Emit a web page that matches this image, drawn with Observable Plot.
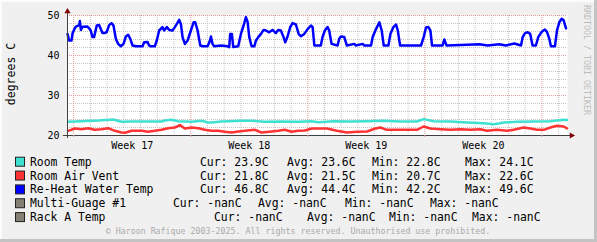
<!DOCTYPE html>
<html><head><meta charset="utf-8">
<script src="https://cdn.jsdelivr.net/npm/d3@7"></script>
<script src="https://cdn.jsdelivr.net/npm/@observablehq/plot@0.6"></script>
<style>
body{margin:0;background:#fff;}
#chart{position:relative;width:597px;height:242px;background:#f0f0f0;box-shadow:inset -3px -3px 0 #c4c4c4, inset 2px 2px 0 #fcfcfc;overflow:hidden;}
#chart svg{position:absolute;left:0;top:0;}
</style></head><body><div id="chart"></div>
<script>
// ---- data (x in days since left edge of the graph) ----
const blueDays = [0.00,0.10,0.24,0.30,0.40,0.50,0.70,0.74,0.80,0.90,1.19,1.29,1.39,1.49,1.59,1.75,1.89,1.99,2.09,2.23,2.35,2.49,2.63,2.75,2.89,3.03,3.19,3.35,3.49,3.63,3.75,3.89,4.09,4.49,4.58,4.78,4.88,4.98,5.22,5.34,5.48,5.68,5.78,5.94,6.08,6.28,6.42,6.54,6.68,6.78,6.88,7.02,7.18,7.38,7.54,7.64,7.78,7.94,8.08,8.38,8.48,8.58,8.67,8.77,9.20,9.57,9.67,9.73,9.83,9.91,10.21,10.37,10.53,10.67,10.77,10.87,11.01,11.17,11.27,11.41,11.57,11.73,11.87,12.06,12.26,12.46,12.60,12.76,12.92,13.02,13.16,13.32,13.46,13.66,13.82,13.96,14.16,14.36,14.56,14.66,14.76,15.15,15.25,15.39,15.55,15.65,15.79,16.15,16.25,16.35,16.55,16.71,17.15,17.25,17.65,17.75,18.15,18.25,18.45,18.65,18.79,18.91,19.19,19.31,19.49,19.65,19.75,19.89,21.14,21.30,21.44,21.58,21.70,21.80,22.43,22.53,22.67,23.53,24.63,25.13,25.82,26.22,26.72,27.12,27.22,27.36,27.52,27.67,27.81,28.01,28.15,28.35,28.55,28.67,28.81,28.91,29.15,29.27,29.41,29.55,29.67,29.81];
const blueValues = [45.4,43.75,43.75,45.5,46.5,47.2,47.6,48.6,46.4,47.2,47.25,46.8,46.25,44.6,44.6,47.5,47.6,46.6,45.6,45.6,45.9,47.6,48.1,47.5,44.2,42.9,42.3,42.9,44.75,45.2,44.2,42.5,42.3,42.3,43.3,43.4,42.5,42.3,42.3,43.75,46.25,47.1,46.25,47.1,46.4,46.25,47.1,47.9,48.9,47.9,44.6,42.9,43.75,46.25,48.3,48.3,46.25,42.5,42.3,42.3,43.3,44.75,42.9,42.3,42.5,42.3,42.1,45.4,45.4,42.1,42.3,45.4,47.5,49.6,48.4,44.6,42.3,42.3,43.75,44.6,45.4,46.4,46.25,45.8,46.4,45.6,46.4,46.25,44.6,43.3,44.75,47.1,48.1,47.75,45.4,44.8,45.4,46.6,47.5,47.1,42.5,42.5,44.6,46.25,47.1,46.25,42.9,42.5,44.2,44.75,44.6,42.5,42.9,42.5,42.9,42.5,42.5,44.6,46.6,48.3,46.25,42.5,42.5,45.4,47.1,47.75,46.25,42.5,42.5,44.6,47.0,47.1,46.25,42.5,42.5,44.0,42.5,42.6,42.8,42.5,42.8,42.5,43.0,42.5,44.6,45.6,45.8,45.4,42.5,42.5,44.6,45.9,46.5,45.9,44.2,42.3,42.3,46.25,48.3,49.2,48.8,46.8];

const cyanDays = [0.04,0.84,1.83,2.73,3.23,3.83,4.82,5.62,5.82,6.22,6.62,7.42,8.02,8.41,8.61,9.21,10.41,11.01,11.80,12.80,13.80,14.60,15.00,15.91,16.91,17.91,18.90,19.90,20.90,21.30,21.90,22.89,23.89,24.89,25.49,25.79,26.08,26.88,27.88,28.88,29.67,29.87];
const cyanValues = [23.42,23.58,23.75,24.0,23.42,23.5,23.5,23.5,23.75,23.92,23.58,23.42,23.67,23.25,23.25,23.5,23.67,23.67,23.42,23.5,23.42,23.58,23.33,23.58,23.5,23.58,23.67,23.5,23.5,24.1,23.58,23.5,23.25,23.08,22.83,23.0,23.25,23.42,23.5,23.58,23.92,23.9];

const redDays = [0.04,0.44,0.84,1.23,1.63,2.03,2.43,2.83,3.23,3.43,3.83,4.43,4.82,5.22,5.62,6.02,6.42,6.72,7.02,7.42,7.82,8.21,8.61,9.01,9.41,9.81,10.21,10.61,11.21,11.60,12.20,12.60,13.00,13.40,13.80,14.20,14.60,15.51,16.11,16.71,17.31,17.91,18.41,18.71,19.10,19.70,20.30,20.90,21.30,21.70,22.29,22.89,23.49,24.09,24.69,25.09,25.68,26.28,26.68,27.28,27.68,28.08,28.48,28.88,29.27,29.67,29.87];
const redValues = [21.17,21.75,21.58,21.83,21.42,21.58,21.83,21.17,20.75,20.7,21.17,21.17,20.92,21.17,21.42,21.83,22.0,22.6,21.75,22.0,21.83,21.42,21.17,21.17,20.92,20.75,21.0,21.17,21.42,20.75,21.0,21.17,21.42,20.92,21.17,21.25,21.75,21.75,21.17,20.75,20.92,21.0,21.75,22.0,21.42,21.42,21.42,21.42,22.25,21.75,21.58,21.42,21.58,21.42,21.58,21.17,21.42,21.17,21.42,22.0,21.75,21.42,21.42,22.0,22.42,22.25,21.8];

const xDomain = [0, 29.9];
const yDomain = [20, 50];
const yMajor = [20, 30, 40, 50];
const yMinor = [22, 24, 26, 28, 32, 34, 36, 38, 42, 44, 46, 48];
const weekStarts = [0.37, 7.37, 14.37, 21.37, 28.37];
const dayGrid = [1.37,2.37,3.37,4.37,5.37,6.37,8.37,9.37,10.37,11.37,12.37,13.37,15.37,16.37,17.37,18.37,19.37,20.37,22.37,23.37,24.37,25.37,26.37,27.37,29.37];
const weekCenters = [3.87, 10.87, 17.87, 24.87];
const weekLabels = ["Week 17", "Week 18", "Week 19", "Week 20"];

const legendLabels = ["Room Temp", "Room Air Vent", "Re-Heat Water Temp", "Multi-Guage #1", "Rack A Temp"];
const legendColors = ["#40e0d0", "#ff3333", "#0000ff", "#858075", "#858075"];
const curText = ["23.9C", "21.8C", "46.8C", "-nanC", "-nanC"];
const avgText = ["23.6C", "21.5C", "44.4C", "-nanC", "-nanC"];
const minText = ["22.8C", "20.7C", "42.2C", "-nanC", "-nanC"];
const maxText = ["24.1C", "22.6C", "49.6C", "-nanC", "-nanC"];
const yLabel = "degrees C";
const watermark = "RRDTOOL / TOBI OETIKER";
const copyright = "\u00a9 Haroon Rafique 2003-2025. All rights reserved. Unauthorised use prohibited.";

// ---- build ----
const mono = "DejaVu Sans Mono, monospace";
const toRows = (xs, vs) => xs.map((t, i) => ({t, v: vs[i]}));
const blue = toRows(blueDays, blueValues);
const cyan = toRows(cyanDays, cyanValues);
const red = toRows(redDays, redValues);

const chart = document.getElementById("chart");

// text layer (behind the plot)
const W = 597, H = 242;
const svg = d3.create("svg").attr("width", W).attr("height", H)
  .style("font-family", mono);
svg.append("text").attr("transform", "translate(15,74) rotate(-90)")
  .attr("text-anchor", "middle").attr("font-size", "11.5px").attr("fill", "#000").text(yLabel);
svg.append("text").attr("transform", "translate(584,5) rotate(90)")
  .attr("text-anchor", "start").attr("font-size", "8.3px").attr("fill", "#bdbdbd").text(watermark);
svg.append("text").attr("x", 298).attr("y", 234).attr("text-anchor", "middle")
  .attr("font-size", "8.3px").attr("fill", "#aaaaaa").text(copyright);

const colPos = [
  [200, 287, 372, 465],
  [200, 287, 372, 465],
  [200, 287, 372, 465],
  [173, 258, 345, 430],
  [214, 307, 389, 472]
];
const rowY0 = 165.7, rowStep = 13.85;
legendLabels.forEach((lab, i) => {
  const y = rowY0 + i * rowStep;
  svg.append("rect").attr("x", 15.5).attr("y", y - 8.5).attr("width", 9).attr("height", 9)
    .attr("fill", legendColors[i]).attr("stroke", "#222").attr("stroke-width", 1);
  const g = svg.append("g").attr("font-size", "11.4px").attr("fill", "#000");
  g.append("text").attr("x", 30).attr("y", y).text(lab);
  const parts = ["Cur: " + curText[i], "Avg: " + avgText[i], "Min: " + minText[i], "Max: " + maxText[i]];
  parts.forEach((p, j) => g.append("text").attr("x", colPos[i][j]).attr("y", y).text(p));
});
chart.appendChild(svg.node());

const gridGrey = "#c4c4c4", gridRed = "#e39a9a", axisCol = "#404040", arrowCol = "#800000";
const plot = Plot.plot({
  width: W, height: 152,
  marginLeft: 67, marginRight: 30, marginTop: 15, marginBottom: 17,
  x: {domain: xDomain, axis: null},
  y: {domain: yDomain, axis: null},
  style: {background: "transparent", fontFamily: mono, fontSize: "10px", color: "#000", overflow: "visible"},
  marks: [
    Plot.frame({fill: "#ffffff", stroke: null}),
    Plot.ruleX(dayGrid, {stroke: gridGrey, strokeDasharray: "1,1"}),
    Plot.ruleY(yMinor, {stroke: gridGrey, strokeDasharray: "1,1"}),
    Plot.ruleX(weekStarts, {stroke: gridRed, strokeDasharray: "1,1"}),
    Plot.ruleY(yMajor, {stroke: gridRed, strokeDasharray: "1,1"}),
    Plot.line(cyan, {x: "t", y: "v", stroke: "#40e0d0", strokeWidth: 2.5}),
    Plot.line(red, {x: "t", y: "v", stroke: "#ff3333", strokeWidth: 2.5}),
    Plot.line(blue, {x: "t", y: "v", stroke: "#0000ff", strokeWidth: 2.5}),
    // axes lines
    Plot.ruleY([{y: yDomain[0], x1: xDomain[0] - 0.25, x2: xDomain[1] + 0.2}], {y: "y", x1: "x1", x2: "x2", stroke: axisCol}),
    Plot.ruleX([{x: xDomain[0], y1: yDomain[0] - 0.75, y2: yDomain[1] + 1.1}], {x: "x", y1: "y1", y2: "y2", stroke: axisCol}),
    Plot.ruleX(weekStarts, {y1: yDomain[0], y2: yDomain[0] - 0.5, stroke: gridRed}),
    Plot.dot([{x: xDomain[0], y: yDomain[1] + 1}], {x: "x", y: "y", symbol: "triangle", r: 2.3, fill: arrowCol, stroke: null}),
    Plot.dot([{x: xDomain[1] + 0.24, y: yDomain[0]}], {x: "x", y: "y", symbol: "triangle", r: 2.3, rotate: 90, fill: arrowCol, stroke: null}),
    Plot.axisY({ticks: yMajor, tickSize: 0, tickPadding: 8, label: null, fill: "#000", fontSize: 10}),
    Plot.axisX({ticks: weekCenters, tickFormat: d => weekLabels[weekCenters.indexOf(d)], tickSize: 0, tickPadding: 6, label: null, fill: "#000", fontSize: 10})
  ]
});
chart.appendChild(plot);
</script>
</body></html>
